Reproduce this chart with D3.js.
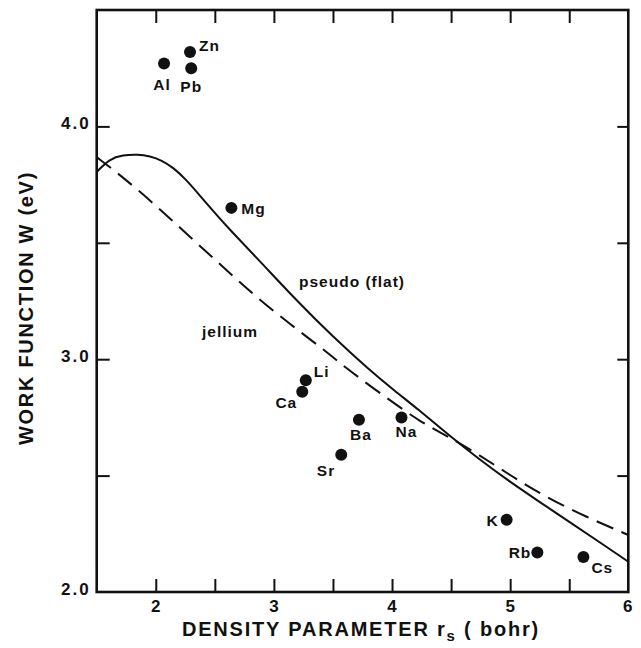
<!DOCTYPE html>
<html>
<head>
<meta charset="utf-8">
<script src="https://cdn.jsdelivr.net/npm/d3@7"></script>
<style>
  html, body { margin: 0; padding: 0; background: #fff; }
  svg { display: block; }
  text { font-family: "Liberation Sans", Arial, Helvetica, sans-serif; font-weight: bold; fill: #111; }
</style>
</head>
<body>
<svg id="chart" width="641" height="648"></svg>
<script>
// ---- data ----
const elements = ["Al", "Zn", "Pb", "Mg", "Li", "Ca", "Ba", "Na", "Sr", "K", "Rb", "Cs"];
const rsValues = [2.07, 2.29, 2.30, 2.64, 3.27, 3.24, 3.72, 4.08, 3.57, 4.97, 5.23, 5.62];
const workFunction = [4.27, 4.32, 4.25, 3.65, 2.91, 2.86, 2.74, 2.75, 2.59, 2.31, 2.17, 2.15];

const pseudoX = [1.5, 1.61, 1.72, 1.85, 1.95, 2.05, 2.15, 2.25, 2.37, 2.50, 2.62, 2.90, 3.19, 3.50, 3.81, 4.02, 4.23, 4.48, 4.74, 4.99, 5.24, 5.52, 5.76, 6.0];
const pseudoY = [3.804, 3.861, 3.877, 3.880, 3.872, 3.855, 3.822, 3.775, 3.705, 3.628, 3.56, 3.411, 3.253, 3.096, 2.953, 2.865, 2.781, 2.674, 2.569, 2.476, 2.39, 2.295, 2.213, 2.13];

const jelliumX = [1.5, 1.72, 2.00, 2.29, 2.57, 2.85, 3.13, 3.41, 3.64, 3.98, 4.26, 4.48, 4.74, 5.02, 5.30, 5.64, 6.0];
const jelliumY = [3.868, 3.783, 3.661, 3.525, 3.396, 3.267, 3.153, 3.046, 2.95, 2.824, 2.724, 2.667, 2.588, 2.495, 2.409, 2.323, 2.245];

const xTickValues = [2, 2.5, 3, 3.5, 4, 4.5, 5, 5.5];
const xTickLabels = ["2", "", "3", "", "4", "", "5", ""];
const yTickValues = [2.5, 3.0, 3.5, 4.0];
const yTickLabels = ["2.0", "3.0", "4.0"];
const yLabelValues = [2.0, 3.0, 4.0];

// label offsets (dx, dy from point, anchor)
const labelPos = {
  Al: [-2, 26, "middle"], Zn: [9, -1, "start"], Pb: [0, 24, "middle"], Mg: [10, 6, "start"],
  Li: [8, -3, "start"], Ca: [-5, 16, "end"], Ba: [2, 20, "middle"], Na: [5, 20, "middle"],
  Sr: [-6, 21, "end"], K: [-8, 6, "end"], Rb: [-6, 6, "end"], Cs: [8, 16, "start"]
};

// ---- scales ----
const svg = d3.select("#chart");
const x = d3.scaleLinear().domain([1.5, 6]).range([96.7, 628.3]);
const y = d3.scaleLinear().domain([2.0, 4.5]).range([592, 10]);

const L = x.range()[0], R = x.range()[1], B = y.range()[0], T = y.range()[1];

// curves clipped to frame
svg.append("defs").append("clipPath").attr("id", "clip")
  .append("rect").attr("x", L).attr("y", T).attr("width", R - L).attr("height", B - T);

const line = d3.line().x(d => x(d[0])).y(d => y(d[1])).curve(d3.curveBasis);

svg.append("path")
  .datum(pseudoX.map((v, i) => [v, pseudoY[i]]))
  .attr("clip-path", "url(#clip)")
  .attr("d", line).attr("fill", "none").attr("stroke", "#111").attr("stroke-width", 2);

svg.append("path")
  .datum(jelliumX.map((v, i) => [v, jelliumY[i]]))
  .attr("clip-path", "url(#clip)")
  .attr("d", line).attr("fill", "none").attr("stroke", "#111").attr("stroke-width", 2)
  .attr("stroke-dasharray", "18,9");

// axes with inward ticks
const tl = 13;
const axB = d3.axisBottom(x).tickValues(xTickValues).tickSize(-tl).tickFormat((d, i) => xTickLabels[i]).tickPadding(20);
const axT = d3.axisTop(x).tickValues(xTickValues).tickSize(-tl).tickFormat("");
const axLft = d3.axisLeft(y).tickValues(yTickValues).tickSize(-tl).tickFormat("");
const axRgt = d3.axisRight(y).tickValues(yTickValues).tickSize(-11).tickFormat("");

function styleAxis(g) {
  g.select(".domain").remove();
  g.selectAll(".tick line").attr("stroke", "#111").attr("stroke-width", 2);
}

const gB = svg.append("g").attr("transform", `translate(0,${B})`).call(axB).call(styleAxis);
gB.selectAll(".tick text").attr("font-size", 17).attr("fill", "#111")
  .attr("font-family", "Liberation Sans, Arial, sans-serif").attr("font-weight", "bold")
  .attr("letter-spacing", "1px").attr("y", 20).attr("dy", "0");
svg.append("g").attr("transform", `translate(0,${T})`).call(axT).call(styleAxis);
svg.append("g").attr("transform", `translate(${L},0)`).call(axLft).call(styleAxis);
svg.append("g").attr("transform", `translate(${R},0)`).call(axRgt).call(styleAxis);

// x label for 6 at right edge
svg.append("text").attr("x", x(6)).attr("y", B + 20).attr("text-anchor", "middle")
  .attr("font-size", 17).attr("letter-spacing", "1px").text("6");

// y tick labels
svg.selectAll(".ylab").data(yLabelValues).enter().append("text")
  .attr("class", "ylab")
  .attr("x", L - 6).attr("y", d => y(d) + 3)
  .attr("text-anchor", "end").attr("font-size", 17).attr("letter-spacing", "2px")
  .text((d, i) => yTickLabels[i]);

// frame
svg.append("rect").attr("x", L).attr("y", T).attr("width", R - L).attr("height", B - T)
  .attr("fill", "none").attr("stroke", "#111").attr("stroke-width", 2.6);

// points
svg.selectAll("circle.pt").data(elements).enter().append("circle")
  .attr("class", "pt")
  .attr("cx", (d, i) => x(rsValues[i])).attr("cy", (d, i) => y(workFunction[i]))
  .attr("r", 6).attr("fill", "#111");

svg.selectAll("text.el").data(elements).enter().append("text")
  .attr("class", "el")
  .attr("x", (d, i) => x(rsValues[i]) + labelPos[d][0])
  .attr("y", (d, i) => y(workFunction[i]) + labelPos[d][1])
  .attr("text-anchor", d => labelPos[d][2])
  .attr("font-size", 15.5).attr("letter-spacing", "1px")
  .text(d => d);

// curve labels
svg.append("text").attr("x", 299).attr("y", 287).attr("font-size", 15.5).attr("letter-spacing", "1px").text("pseudo (flat)");
svg.append("text").attr("x", 202).attr("y", 337).attr("font-size", 15.5).attr("letter-spacing", "1px").text("jellium");

// axis titles
const xt = svg.append("text").attr("x", 361).attr("y", 636).attr("text-anchor", "middle")
  .attr("font-size", 20).attr("letter-spacing", "1.8px");
xt.append("tspan").text("DENSITY PARAMETER r");
xt.append("tspan").attr("font-size", 15).attr("dy", 5).text("s");
xt.append("tspan").attr("dy", -5).text(" ( bohr)");

svg.append("text").attr("transform", "translate(33,308) rotate(-90)")
  .attr("text-anchor", "middle").attr("font-size", 20).attr("letter-spacing", "1.7px")
  .text("WORK FUNCTION W (eV)");
</script>
</body>
</html>
